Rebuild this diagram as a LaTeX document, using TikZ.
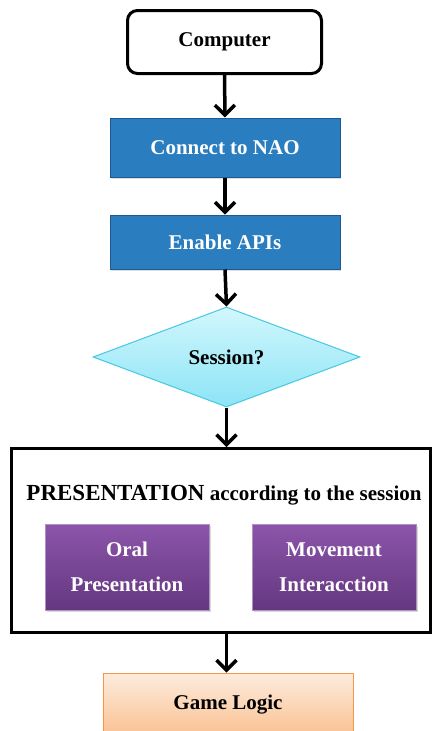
\documentclass[tikz,border=0pt]{standalone}
\usepackage{fontspec}
\setmainfont{Liberation Serif}
\usetikzlibrary{arrows.meta,shapes.geometric,shadows}
\definecolor{cblue}{RGB}{42,125,191}
\definecolor{cblueb}{RGB}{30,90,145}
\definecolor{cyantop}{RGB}{210,247,252}
\definecolor{cyanbot}{RGB}{140,228,246}
\definecolor{cyanb}{RGB}{70,200,225}
\definecolor{purtop}{RGB}{140,85,170}
\definecolor{purbot}{RGB}{100,55,128}
\definecolor{purb}{RGB}{175,145,195}
\definecolor{ortop}{RGB}{253,236,222}
\definecolor{orbot}{RGB}{250,192,143}
\definecolor{orb}{RGB}{247,150,70}
\begin{document}
\begin{tikzpicture}[x=1pt,y=-1pt,
  lbl/.style={font=\bfseries\fontsize{21}{35}\selectfont, align=center, inner sep=0pt},
  arr/.style={line width=3.5pt, -{Straight Barb[length=10pt,width=20pt]}},
  compbox/.style={lbl, draw, line width=3pt, rounded corners=10pt, minimum width=194pt, minimum height=63pt},
  bluebox/.style={lbl, fill=cblue, draw=cblueb, line width=1pt, text=white, minimum width=230pt,
    drop shadow={shadow xshift=1pt, shadow yshift=-1.5pt, opacity=0.25}},
  decbox/.style={lbl, shape=diamond, top color=cyantop, bottom color=cyanbot, draw=cyanb, line width=1pt,
    minimum width=267pt, minimum height=100pt, aspect=2.67},
  bigbox/.style={draw, line width=3pt, minimum width=419pt, minimum height=184pt, inner sep=0pt},
  purbox/.style={lbl, top color=purtop, bottom color=purbot, draw=purb, line width=0.8pt, text=white,
    minimum width=164pt, minimum height=86pt,
    drop shadow={shadow xshift=1.5pt, shadow yshift=-2pt, opacity=0.3}},
  orbox/.style={lbl, top color=ortop, bottom color=orbot, draw=orb, line width=1pt,
    minimum width=250pt, minimum height=64pt},
]
\useasboundingbox (0,0) rectangle (435,731);
\node[compbox] (comp) at (224.5,42) {Computer};
\node[bluebox, minimum height=59pt] (conn) at (225,147.5) {Connect to NAO};
\node[bluebox, minimum height=54pt] (apis) at (225,242) {Enable APIs};
\node[decbox] (sess) at (226.5,357) {Session?};
\node[bigbox] (pres) at (221,540.5) {};
\node[lbl, anchor=base] (title) at (224,500) {{\fontsize{23}{29}\selectfont PRESENTATION} according to the session};
\node[purbox] (oral) at (127,567) {Oral\\Presentation};
\node[purbox] (move) at (334,567) {Movement\\Interacction};
\node[orbox] (game) at (228,705) {Game Logic};
\draw[arr] (comp.south) -- (conn.north);
\draw[arr] (conn.south) -- (apis.north);
\draw[arr] (apis.south) -- (sess.north);
\draw[arr] (sess.south) -- (sess.south |- pres.north);
\draw[arr] (sess.south |- pres.south) -- (sess.south |- game.north);
\end{tikzpicture}
\end{document}
